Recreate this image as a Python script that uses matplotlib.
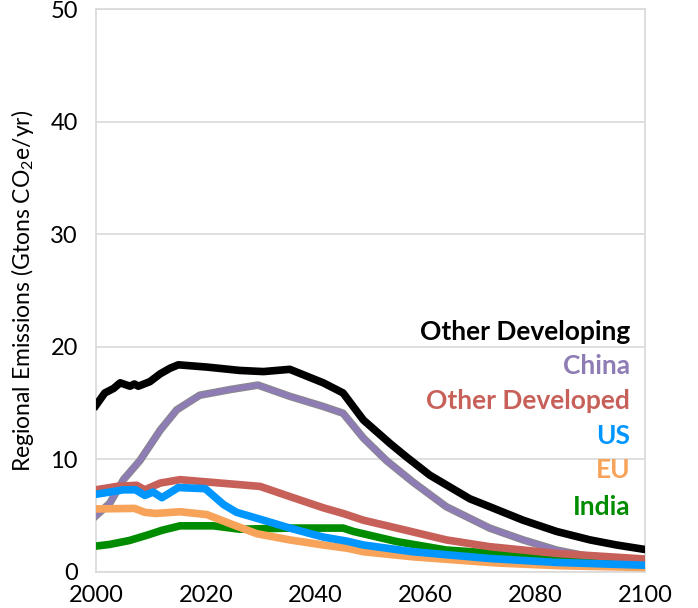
import matplotlib
matplotlib.use("Agg")
import matplotlib.pyplot as plt
import matplotlib.patheffects as pe

plt.rcParams['font.family'] = ['Lato', 'DejaVu Sans']
plt.rcParams['mathtext.fontset'] = 'custom'
plt.rcParams['mathtext.rm'] = 'Lato'
plt.rcParams['mathtext.it'] = 'Lato:italic'
plt.rcParams['mathtext.bf'] = 'Lato:bold'

# ---- data ----
other_dev_x = [2000, 2001.6, 2003.2, 2004.4, 2006.2, 2007, 2007.7, 2009.8, 2011.7, 2013.5, 2015, 2020.2,
               2026.2, 2030.5, 2035.3, 2041.4, 2045, 2048.7, 2053.6, 2056.6, 2060.8, 2068.1, 2071.7,
               2077.8, 2083.9, 2090, 2094.8, 2100]
other_dev_y = [14.8, 15.9, 16.3, 16.8, 16.5, 16.7, 16.5, 16.9, 17.6, 18.1, 18.4, 18.2,
               17.9, 17.8, 18.0, 16.8, 15.9, 13.5, 11.4, 10.2, 8.6, 6.5, 5.8,
               4.6, 3.6, 2.85, 2.4, 2.0]

china_x = [2000, 2002.5, 2005, 2008, 2011.7, 2014.7, 2018.9, 2024.4, 2029.5, 2035.3, 2041.4, 2045,
           2048.7, 2052.9, 2057.7, 2063.8, 2071.7, 2077.8, 2083.9, 2090, 2100]
china_y = [5.0, 6.1, 8.2, 9.9, 12.6, 14.4, 15.7, 16.2, 16.6, 15.6, 14.7, 14.1,
           11.9, 9.9, 8.0, 5.8, 3.9, 2.85, 1.95, 1.35, 0.75]

odev_x = [2000, 2003.8, 2007.4, 2008.9, 2011.7, 2015.3, 2020.2, 2029.9, 2035.3, 2041.4, 2045,
          2048.7, 2054.8, 2063.8, 2071.7, 2083.9, 2100]
odev_y = [7.3, 7.6, 7.7, 7.3, 7.9, 8.2, 8.0, 7.6, 6.7, 5.7, 5.2,
          4.6, 3.9, 2.85, 2.25, 1.65, 1.15]

us_x = [2000, 2002.5, 2005, 2007.2, 2008.9, 2010.4, 2012, 2015, 2019.9, 2023.2, 2025.6, 2030.5,
        2035.3, 2041.4, 2045.6, 2048.7, 2057.7, 2071.7, 2083.9, 2100]
us_y = [6.9, 7.1, 7.3, 7.3, 6.8, 7.1, 6.6, 7.5, 7.4, 6.0, 5.3, 4.6,
        3.9, 3.1, 2.75, 2.4, 1.8, 1.2, 0.85, 0.6]

eu_x = [2000, 2007, 2008.9, 2010.9, 2015.3, 2020.2, 2024.4, 2029.3, 2035.3, 2041.4, 2045.9,
        2048.7, 2057.7, 2073, 2085, 2100]
eu_y = [5.6, 5.65, 5.3, 5.2, 5.35, 5.1, 4.3, 3.4, 2.85, 2.4, 2.1,
        1.8, 1.35, 0.8, 0.55, 0.4]

india_x = [2000, 2002.5, 2006.1, 2009.5, 2012, 2015.3, 2021.4, 2026.2, 2035.3, 2045, 2046.9,
           2054.8, 2063.8, 2073, 2083.9, 2100]
india_y = [2.3, 2.45, 2.8, 3.3, 3.7, 4.1, 4.1, 3.8, 3.9, 3.9, 3.6,
           2.7, 1.95, 1.65, 1.3, 0.8]

labels = ["Other Developing", "China", "Other Developed", "US", "EU", "India"]
colors = ["#000000", "#8E7CB5", "#C8605A", "#0096FF", "#F8A35A", "#008C00"]

x_ticks = [2000, 2020, 2040, 2060, 2080, 2100]
y_ticks = [0, 10, 20, 30, 40, 50]

# ---- figure ----
fig = plt.figure(figsize=(6.98, 6.08), dpi=100)
ax = fig.add_axes([96/698, 1-572/608, (645-96)/698, (572-9)/608])

lw = 5.5
ax.plot(other_dev_x, other_dev_y, color=colors[0], lw=lw, solid_joinstyle='round', zorder=3)
ax.plot(china_x, china_y, color=colors[1], lw=lw-1.4, zorder=3,
        path_effects=[pe.Stroke(linewidth=lw, foreground='#8A8A8A'), pe.Normal()])
ax.plot(india_x, india_y, color=colors[5], lw=lw, zorder=3)
ax.plot(eu_x, eu_y, color=colors[4], lw=lw, zorder=3)
ax.plot(odev_x, odev_y, color=colors[2], lw=lw, zorder=3)
ax.plot(us_x, us_y, color=colors[3], lw=lw, zorder=3)

ax.set_xlim(2000, 2100)
ax.set_ylim(0, 50)
ax.set_xticks(x_ticks)
ax.set_yticks(y_ticks)
ax.tick_params(length=0, labelsize=17)
ax.tick_params(axis='y', pad=13)
ax.tick_params(axis='x', pad=9)
ax.grid(axis='y', color='#D9D9D9', lw=1.2, zorder=0)
for s in ax.spines.values():
    s.set_color('#D9D9D9')
    s.set_linewidth(1.2)

ax.set_ylabel("Regional Emissions (Gtons CO$_2$e/yr)", fontsize=16.5, labelpad=10)

# label layout (axes fractions)
label_pos_y = [0.4268, 0.3659, 0.3043, 0.2416, 0.1812, 0.1160]
for lab, yv, c in zip(labels, label_pos_y, colors):
    ax.text(0.9727, yv, lab, color=c, fontsize=19, fontweight='bold',
            ha='right', va='center', transform=ax.transAxes, zorder=4)

fig.savefig("out.png", dpi=100)
